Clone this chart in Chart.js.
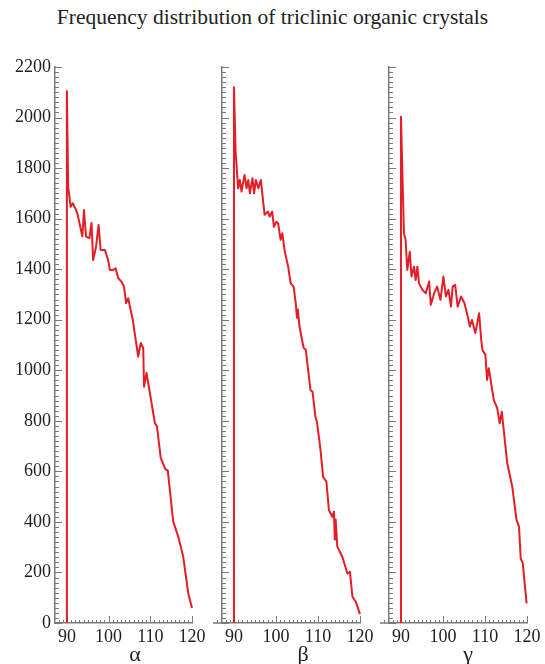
<!DOCTYPE html>
<html>
<head>
<meta charset="utf-8">
<script src="https://cdn.jsdelivr.net/npm/chart.js@4/dist/chart.umd.min.js"></script>
<style>
  html, body { margin: 0; padding: 0; background: #fff; }
  #wrap { position: relative; width: 545px; height: 664px; overflow: hidden; }
  canvas { position: absolute; top: 0; }
  .txt { position: absolute; font-family: "Liberation Serif", serif; color: #222; white-space: nowrap; }
  #title { left: 0; width: 545px; top: 5px; text-align: center; font-size: 21.5px; }
  .glab { font-size: 22px; transform: translate(-50%, -50%); top: 654px; }
</style>
</head>
<body>
<div id="wrap">
  <div id="title" class="txt">Frequency distribution of triclinic organic crystals</div>
  <canvas id="cA" width="210" height="664" style="left:0px"></canvas>
  <canvas id="cB" width="168" height="664" style="left:210px"></canvas>
  <canvas id="cC" width="167" height="664" style="left:378px"></canvas>
  <div class="txt glab" style="left:135px">α</div>
  <div class="txt glab" style="left:303px">β</div>
  <div class="txt glab" style="left:468px">γ</div>
</div>
<script>
// ---- data (angle in degrees, frequency) ----
const alphaX = [90, 90, 90.3, 90.9, 91.4, 92.2, 92.6, 93.7, 94.1, 94.6, 95.4, 95.9, 96.3, 97.0, 97.6, 98.1, 99.1, 99.9, 100.3, 101.1, 101.7, 102.3, 103.1, 103.7, 104.2, 104.7, 105.8, 106.5, 107.1, 107.7, 108.3, 108.5, 109.1, 109.9, 111.1, 111.6, 112.5, 113.6, 114.2, 115.5, 116.7, 117.9, 119.1, 120];
const alphaY = [0, 2105, 1727, 1647, 1661, 1634, 1615, 1529, 1634, 1529, 1523, 1583, 1436, 1490, 1575, 1476, 1476, 1436, 1397, 1397, 1403, 1365, 1350, 1331, 1266, 1285, 1199, 1120, 1054, 1108, 1088, 935, 989, 910, 791, 778, 653, 609, 603, 401, 342, 262, 117, 59];

const betaX = [90, 90, 90.4, 91.0, 91.4, 91.8, 92.5, 93.0, 93.4, 93.8, 94.4, 94.8, 95.2, 95.8, 96.4, 96.9, 97.3, 98.1, 98.5, 99.1, 99.5, 100.1, 100.5, 101.1, 101.5, 102.1, 102.9, 103.5, 104.2, 104.7, 105.0, 105.2, 105.6, 106.2, 106.6, 107.1, 108.2, 108.7, 109.4, 109.8, 110.6, 111.2, 112.0, 112.6, 113.4, 113.8, 114.0, 114.2, 114.6, 115.8, 117.0, 117.6, 118.2, 119.0, 120];
const betaY = [0, 2120, 1860, 1720, 1753, 1707, 1773, 1720, 1753, 1700, 1760, 1700, 1753, 1720, 1753, 1674, 1615, 1628, 1608, 1628, 1568, 1588, 1582, 1516, 1542, 1469, 1410, 1344, 1331, 1266, 1208, 1240, 1173, 1120, 1088, 1081, 922, 915, 816, 790, 685, 579, 559, 447, 420, 440, 330, 410, 302, 262, 196, 203, 104, 84, 35];

const gammaX = [90, 90, 90.7, 91.1, 91.5, 92.1, 92.5, 93.1, 93.5, 93.9, 94.3, 95.1, 95.9, 96.7, 97.1, 97.9, 98.6, 99.4, 100.1, 100.7, 101.3, 101.9, 102.3, 102.9, 103.5, 104.3, 105.1, 105.9, 106.4, 106.9, 107.7, 108.6, 109.1, 109.4, 110.1, 110.5, 110.9, 112.1, 112.9, 113.5, 114.0, 115.3, 116.5, 117.5, 118.1, 118.5, 119.0, 119.9];
const gammaY = [0, 2003, 1542, 1516, 1397, 1469, 1371, 1410, 1357, 1410, 1344, 1318, 1305, 1351, 1259, 1305, 1331, 1279, 1371, 1292, 1318, 1252, 1331, 1338, 1252, 1292, 1266, 1213, 1173, 1199, 1147, 1226, 1120, 1080, 1061, 962, 1008, 882, 850, 790, 836, 632, 539, 408, 381, 256, 236, 78];

const xTicks = [90, 100, 110, 120];
const yTicks = [0, 200, 400, 600, 800, 1000, 1200, 1400, 1600, 1800, 2000, 2200];

const RED = '#e41e26';
const AXIS = '#7a7a7a';
const FONT = '"Liberation Serif", "Times New Roman", serif';
Chart.defaults.font.family = FONT;

// inward minor/major tick marks drawn through the chart's own scales
const innerTicks = {
  id: 'innerTicks',
  beforeDatasetsDraw(chart, args, opts) {
    const ctx = chart.ctx, xs = chart.scales.x, ys = chart.scales.y, ca = chart.chartArea;
    ctx.save();
    ctx.strokeStyle = AXIS;
    ctx.lineWidth = 1;
    for (let v = 0; v <= 2200; v += 20) {
      const py = Math.round(ys.getPixelForValue(v)) + 0.5;
      const len = (v % 200 === 0) ? 7 : 4;
      ctx.beginPath(); ctx.moveTo(ca.left, py); ctx.lineTo(ca.left + len, py); ctx.stroke();
    }
    const startX = opts.extend ? 86 : 88;
    for (let v = startX; v <= 120; v += 1) {
      const px = Math.round(xs.getPixelForValue(v)) + 0.5;
      const len = (v % 10 === 0) ? 7 : 3;
      ctx.beginPath(); ctx.moveTo(px, ca.bottom); ctx.lineTo(px, ca.bottom - len); ctx.stroke();
    }
    if (opts.extend) {
      ctx.lineWidth = 1.5;
      ctx.beginPath();
      ctx.moveTo(xs.getPixelForValue(85), ca.bottom);
      ctx.lineTo(ca.left, ca.bottom);
      ctx.stroke();
    }
    ctx.restore();
  }
};

function makePanel(id, xsData, ysData, showY, leftW, rightPad, extend) {
  const pts = xsData.map((x, i) => ({ x: x, y: ysData[i] }));
  return new Chart(document.getElementById(id), {
    type: 'line',
    data: { datasets: [{
      data: pts, borderColor: RED, borderWidth: 2, pointRadius: 0,
      tension: 0, fill: false, clip: false, borderJoinStyle: 'round'
    }]},
    plugins: [innerTicks],
    options: {
      responsive: false, animation: false, devicePixelRatio: 1,
      font: { family: FONT },
      layout: { padding: { top: 67, right: rightPad, bottom: 0, left: 0 } },
      plugins: { legend: { display: false }, tooltip: { enabled: false }, innerTicks: { extend: extend } },
      scales: {
        x: {
          type: 'linear', min: 87.15, max: 120,
          grid: { display: false, drawTicks: false },
          border: { display: true, color: AXIS, width: 1.5 },
          ticks: { font: { family: FONT, size: 18 }, color: '#222', padding: 3, maxRotation: 0, autoSkip: false,
                   callback: v => String(v) },
          afterBuildTicks: s => { s.ticks = xTicks.map(v => ({ value: v })); },
          afterFit: s => { s.height = 41; }
        },
        y: {
          type: 'linear', min: 0, max: 2200,
          grid: { display: false, drawTicks: false },
          border: { display: true, color: AXIS, width: 1.5 },
          ticks: { display: showY, font: { family: FONT, size: 18 }, color: '#222', padding: 4,
                   callback: v => String(v) },
          afterBuildTicks: s => { s.ticks = yTicks.map(v => ({ value: v })); },
          afterFit: s => { s.width = leftW; }
        }
      }
    }
  });
}

makePanel('cA', alphaX, alphaY, true, 55, 18, false);
makePanel('cB', betaX, betaY, false, 12, 18, true);
makePanel('cC', gammaX, gammaY, false, 11, 18, true);
</script>
</body>
</html>
